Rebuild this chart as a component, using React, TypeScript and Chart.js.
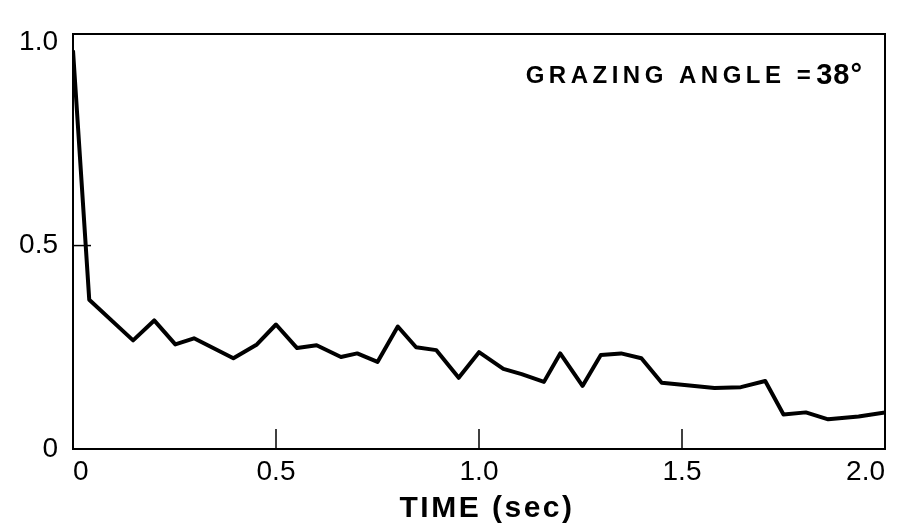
import React, { useEffect, useRef } from "react";
import { Chart, registerables } from "chart.js";

Chart.register(...registerables);

// Data
const timeSec = [
  0, 0.04, 0.148, 0.2, 0.252, 0.298, 0.395, 0.453, 0.5, 0.552, 0.6,
  0.66, 0.7, 0.75, 0.8, 0.845, 0.895, 0.95, 1.0, 1.06, 1.105, 1.16, 1.2, 1.255,
  1.3, 1.35, 1.4, 1.45, 1.5, 1.58, 1.645, 1.705, 1.75, 1.805, 1.86, 1.935, 2.0,
];
const correlation = [
  0.98, 0.367, 0.267, 0.316, 0.257, 0.272, 0.223, 0.257, 0.306, 0.248,
  0.255, 0.226, 0.235, 0.214, 0.301, 0.25, 0.243, 0.175, 0.238, 0.197, 0.184,
  0.165, 0.235, 0.155, 0.231, 0.235, 0.223, 0.163, 0.158, 0.15, 0.152, 0.167,
  0.085, 0.09, 0.073, 0.08, 0.09,
];
const xTickValues = [0, 0.5, 1.0, 1.5, 2.0];
const xTickLabels = ["0", "0.5", "1.0", "1.5", "2.0"];
const yTickValues = [0, 0.5, 1.0];
const yTickLabels = ["0", "0.5", "1.0"];
const innerTicksX = [0.5, 1.0, 1.5];
const innerTicksY = [0.5];
const xAxisTitle = "TIME (sec)";
const annotationLabel = "GRAZING ANGLE =";
const annotationValue = "38°";

const framePlugin = {
  id: "frameAndTicks",
  afterDraw(chart: any) {
    const { ctx, chartArea, scales } = chart;
    ctx.save();
    ctx.strokeStyle = "#000";
    ctx.lineWidth = 2;
    ctx.strokeRect(
      chartArea.left,
      chartArea.top,
      chartArea.right - chartArea.left,
      chartArea.bottom - chartArea.top
    );
    ctx.lineWidth = 1.5;
    innerTicksX.forEach((v) => {
      const px = scales.x.getPixelForValue(v);
      ctx.beginPath();
      ctx.moveTo(px, chartArea.bottom);
      ctx.lineTo(px, chartArea.bottom - 20);
      ctx.stroke();
    });
    innerTicksY.forEach((v) => {
      const py = scales.y.getPixelForValue(v);
      ctx.beginPath();
      ctx.moveTo(chartArea.left, py);
      ctx.lineTo(chartArea.left + 18, py);
      ctx.stroke();
    });
    ctx.fillStyle = "#000";
    ctx.textBaseline = "alphabetic";
    ctx.textAlign = "left";
    // annotation value part (larger)
    ctx.font = "bold 29px 'Liberation Sans'";
    (ctx as any).letterSpacing = "1px";
    const valueW = ctx.measureText(annotationValue).width;
    const valueRight = chartArea.right - 22;
    const valueLeft = valueRight - valueW;
    ctx.fillText(annotationValue, valueLeft, 84);
    // annotation label part
    ctx.font = "bold 24px 'Liberation Sans'";
    (ctx as any).letterSpacing = "4.5px";
    const labelW = ctx.measureText(annotationLabel).width;
    ctx.fillText(annotationLabel, valueLeft - 1 - labelW, 83);
    // x axis title
    ctx.font = "bold 30px 'Liberation Sans'";
    (ctx as any).letterSpacing = "2.5px";
    const tW = ctx.measureText(xAxisTitle).width;
    const cx = (chartArea.left + chartArea.right) / 2 + 8;
    ctx.fillText(xAxisTitle, cx - tW / 2, 517);
    ctx.restore();
  },
};

export default function App() {
  const canvasRef = useRef<HTMLCanvasElement | null>(null);

  useEffect(() => {
    document.body.style.margin = "0";
    const canvas = canvasRef.current;
    if (!canvas) return;
    const chart = new Chart(canvas, {
      type: "line",
      data: {
        datasets: [
          {
            data: timeSec.map((t, i) => ({ x: t, y: correlation[i] })),
            borderColor: "#000",
            borderWidth: 4,
            pointRadius: 0,
            tension: 0,
            fill: false,
            borderJoinStyle: "round",
          },
        ],
      },
      options: {
        responsive: false,
        animation: false,
        layout: { padding: { top: 34, right: 13, left: 0, bottom: 0 } },
        plugins: {
          legend: { display: false },
          tooltip: { enabled: false },
        },
        scales: {
          x: {
            type: "linear",
            min: 0,
            max: 2.0,
            grid: { display: false, drawTicks: false },
            border: { display: false },
            afterBuildTicks: (s: any) => {
              s.ticks = xTickValues.map((v) => ({ value: v }));
            },
            afterFit: (s: any) => {
              s.height = 79;
              s.paddingLeft = 0;
              s.paddingRight = 0;
            },
            ticks: {
              color: "#000",
              padding: 6,
              maxRotation: 0,
              autoSkip: false,
              align: "inner",
              font: { family: "'Liberation Sans'", size: 28 },
              callback: (v: any) => {
                const i = xTickValues.indexOf(Number(v));
                return i >= 0 ? xTickLabels[i] : "";
              },
            },
            title: { display: false },
          },
          y: {
            type: "linear",
            min: 0,
            max: 1.02,
            grid: { display: false, drawTicks: false },
            border: { display: false },
            afterBuildTicks: (s: any) => {
              s.ticks = yTickValues.map((v) => ({ value: v }));
            },
            afterFit: (s: any) => {
              s.width = 73;
            },
            ticks: {
              color: "#000",
              padding: 15,
              autoSkip: false,
              font: { family: "'Liberation Sans'", size: 28 },
              callback: (v: any) => {
                const i = yTickValues.indexOf(Number(v));
                return i >= 0 ? yTickLabels[i] : "";
              },
            },
          },
        },
      },
      plugins: [framePlugin],
    } as any);
    return () => chart.destroy();
  }, []);

  return (
    <canvas
      ref={canvasRef}
      width={898}
      height={528}
      style={{ display: "block", width: 898, height: 528 }}
    />
  );
}
